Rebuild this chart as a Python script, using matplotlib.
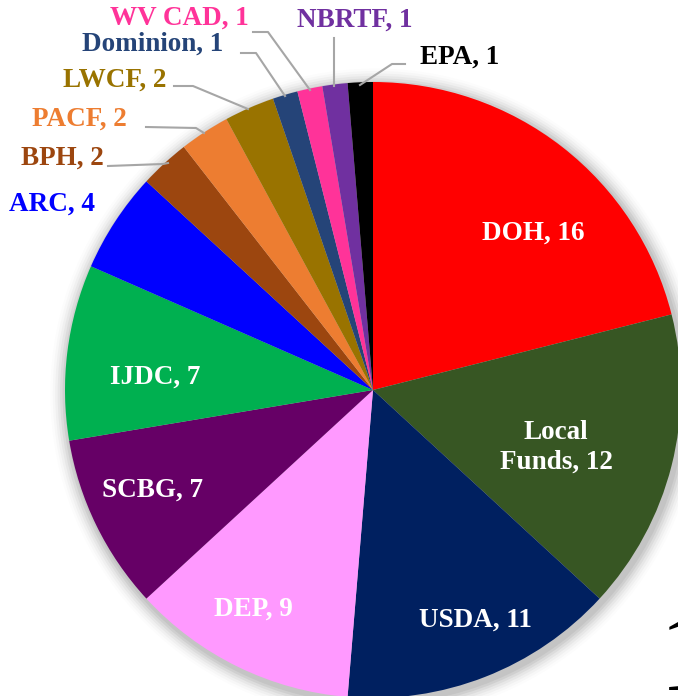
import matplotlib.pyplot as plt
import numpy as np

# =====================================================
# Data
# =====================================================

sources = ['DOH', 'Local\nFunds', 'USDA', 'DEP', 'SCBG', 'IJDC', 'ARC',
           'BPH', 'PACF', 'LWCF', 'Dominion', 'WV CAD', 'NBRTF', 'EPA']
counts = [16, 12, 11, 9, 7, 7, 4, 2, 2, 2, 1, 1, 1, 1]

colors = ['#FF0000', '#375623', '#002060', '#FF99FF', '#660066', '#00B050',
          '#0000FF', '#9C460F', '#ED7D31', '#997300', '#254478', '#FF3399',
          '#7030A0', '#000000']

# =====================================================
# Layout (pixels in the 678x696 picture)
# =====================================================

W, H = 678, 696
cx, cy, R = 373, 390, 308

def px(x, y):
    return ((x - cx) / R, (cy - y) / R)

# label centre, text colour, leader polyline (pixels)
label_layout = [
    ((533, 233), 'white', None),
    ((556, 447), 'white', None),
    ((475, 620), 'white', None),
    ((253, 609), 'white', None),
    ((152, 490), 'white', None),
    ((155, 377), 'white', None),
    ((52, 204), '#0000FF', None),
    ((62, 158), '#9C460F', [(108, 166), (163, 164), (168, 163)]),
    ((79, 119), '#ED7D31', [(146, 127), (196, 128), (204, 133)]),
    ((115, 80), '#997300', [(174, 86), (193, 86), (248, 109)]),
    ((153, 44), '#254478', [(241, 53), (256, 53), (285, 96)]),
    ((179, 18), '#FF3399', [(253, 32), (268, 32), (310, 90)]),
    ((355, 20), '#7030A0', [(334, 38), (334, 86)]),
    ((460, 57), '#000000', [(405, 64), (392, 64), (360, 85)]),
]

# =====================================================
# Plot
# =====================================================

fig = plt.figure(figsize=(W / 100, H / 100), dpi=100)
ax = fig.add_axes([0, 0, 1, 1])

# soft shadow
for i, a in enumerate(np.linspace(0.06, 0.01, 7)):
    ax.add_patch(plt.Circle((0.008, -0.012), 1 + 0.008 * (i + 1),
                            color='black', alpha=a, lw=0, zorder=0))

ax.pie(counts, colors=colors, startangle=90, counterclock=False,
       radius=1, wedgeprops=dict(linewidth=0, zorder=1))

ax.set_xlim(-cx / R, (W - cx) / R)
ax.set_ylim(-(H - cy) / R, cy / R)
ax.set_aspect('equal')
ax.axis('off')

for name, n, (pos, tc, leader) in zip(sources, counts, label_layout):
    x, y = px(*pos)
    ax.text(x, y, f'{name}, {n}', ha='center', va='center',
            color=tc, fontsize=19.5, fontweight='bold',
            family='Liberation Serif', linespacing=1.25, zorder=5)
    if leader:
        pts = np.array([px(*p) for p in leader])
        ax.plot(pts[:, 0], pts[:, 1], color='#A6A6A6', lw=1.5, zorder=4)

# clipped character at the bottom-right edge (cut off in the original too)
ax.text(*px(659, 690), '1', ha='left', va='baseline', fontsize=83,
        family='Liberation Serif', color='black', zorder=5)

fig.savefig('out.png', dpi=100)
